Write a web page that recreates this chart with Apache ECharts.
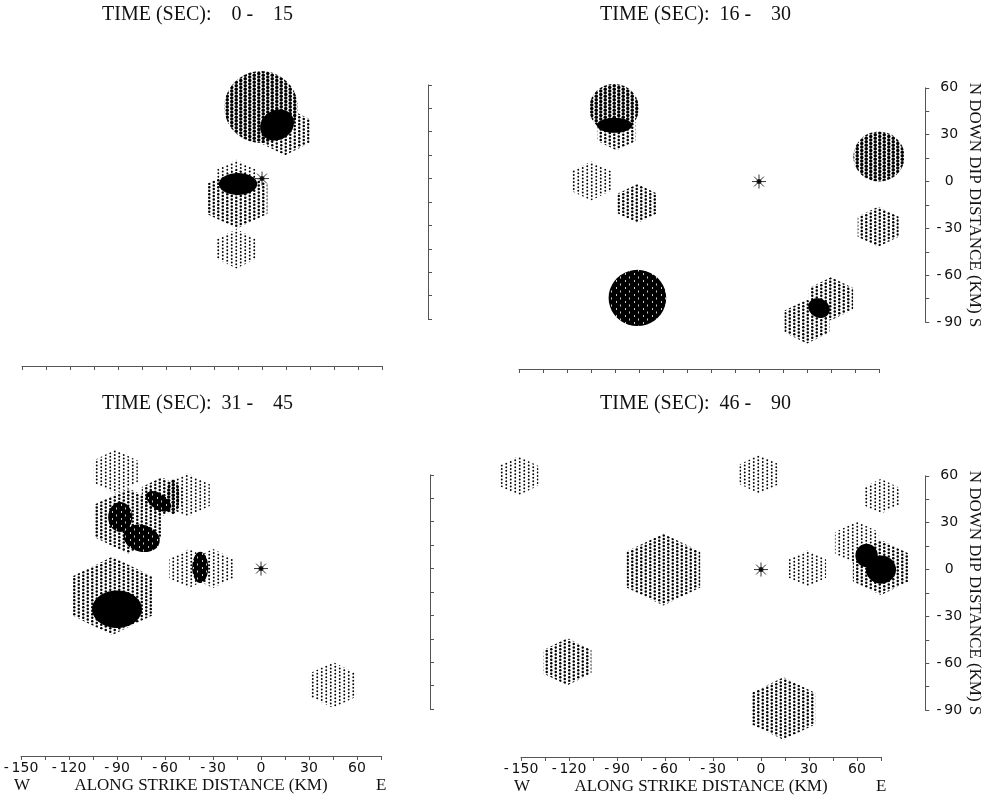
<!DOCTYPE html>
<html>
<head>
<meta charset="utf-8">
<title>Slip snapshots</title>
<script src="https://cdn.jsdelivr.net/npm/echarts@6/dist/echarts.min.js"></script>
<style>
  html, body { margin: 0; padding: 0; background: #fff; }
  #chart { width: 984px; height: 799px; }
</style>
</head>
<body>
<div id="chart"></div>
<script>
// time windows of the four snapshots (sec)
const windows = [[0, 15], [16, 30], [31, 45], [46, 90]];

// slip patches: [along strike km, down dip km, radius km, level]
// level 1 = light dots, 2 = medium, 3 = dense, 4 = very dense
const patches0 = [
  [-0.6, 45.8, 23, 3],
  [14.4, 30.4, 15.4, 2],
  [-16, 0, 12, 1],
  [-15.6, -13, 19, 2],
  [-16, -45, 12.5, 1]
];
const patches1 = [
  [-90.6, 47, 15.5, 3],
  [-89, 32, 12, 2],
  [-105, 0.4, 12.5, 1],
  [-76, -14, 12.5, 2],
  [75, 16, 16, 3],
  [74.5, -29, 12.8, 2],
  [-76, -74.5, 18, 4],
  [45, -75, 13.8, 2],
  [30, -89.6, 14, 2]
];
const patches2 = [
  [-91, 62, 14, 1],
  [-46, 47, 14, 1],
  [-62, 46, 12.5, 2],
  [-83, 30.5, 21, 2],
  [-93, -17.5, 25, 2],
  [-45, 0, 12.5, 1],
  [-30, 0, 12.5, 1],
  [45, -74.5, 14.7, 1]
];
const patches3 = [
  [-151.6, 60, 12.5, 1],
  [-1, 61, 12.5, 1],
  [75, 47, 11.2, 1],
  [-61, 0, 23, 2],
  [29, 0.6, 11.7, 1],
  [60, 17, 13.8, 1],
  [75, 1.3, 17.6, 2],
  [-121, -59, 15, 2],
  [14, -89, 20, 2]
];

// dark cores: [x km, y km, rx km, ry km, tilt deg, level] (5 = solid)
const cores0 = [
  [9.4, 34.3, 11, 9.5, 30, 5],
  [-15, -3.5, 12, 7, 0, 5]
];
const cores1 = [
  [-90.3, 36, 11, 4.8, 0, 5],
  [37.5, -81, 7, 6, -30, 5]
];
const cores2 = [
  [-64, 43, 9, 5, -35, 4],
  [-55, 46, 4, 11, 0, 3],
  [-88, 33, 7.5, 9.6, 0, 4],
  [-74.6, 19.4, 11.5, 8.6, -15, 4],
  [-90, -26, 15.6, 12, 0, 5],
  [-38, 0.7, 5, 10, 0, 4]
];
const cores3 = [
  [66, 9, 7, 7.5, 0, 5],
  [75, 0, 9.4, 9, 0, 5]
];

const patchSets = [patches0, patches1, patches2, patches3];
const coreSets = [cores0, cores1, cores2, cores3];
const hypocenter = [[0, 0]];

const strikeLabels = [-150, -120, -90, -60, -30, 0, 30, 60];
const dipLabels = [60, 30, 0, -30, -60, -90];

// panel frames in pixels
const panels = [
  {left: 22, top: 38, axisX: 428, xLab: false, yLab: false},
  {left: 519, top: 41, axisX: 927, xLab: false, yLab: true},
  {left: 21, top: 428, axisX: 430, xLab: true, yLab: false},
  {left: 521, top: 429, axisX: 927, xLab: true, yLab: true}
];
const W = 360, H = 328;
const serif = 'Liberation Serif';
const sans = 'DejaVu Sans';

// dot screens: columns 4.5px apart, dots every 3.5px, neighbour columns offset
function makePattern(draw) {
  const cv = document.createElement('canvas');
  cv.width = 9; cv.height = 7;
  draw(cv.getContext('2d'));
  return {image: cv, repeat: 'repeat'};
}
function dotScreen(r, color) {
  return makePattern(ctx => {
    ctx.fillStyle = color;
    const pts = [[2.25, 1.75], [2.25, 5.25], [6.75, 0], [6.75, 3.5]];
    pts.forEach(p => {
      for (let i = -1; i <= 1; i++) {
        for (let j = -1; j <= 1; j++) {
          ctx.beginPath();
          ctx.arc(p[0] + i * 9, p[1] + j * 7, r, 0, Math.PI * 2);
          ctx.fill();
        }
      }
    });
  });
}
const fills = {
  1: dotScreen(0.95, '#000'),
  2: dotScreen(1.25, '#000'),
  3: dotScreen(1.75, '#000'),
  4: makePattern(ctx => {
    ctx.fillStyle = '#000';
    ctx.fillRect(0, 0, 9, 7);
    ctx.fillStyle = 'rgba(255,255,255,0.8)';
    ctx.fillRect(4, 0, 1, 2);
    ctx.fillRect(8, 3.5, 1, 2);
  }),
  5: '#000'
};

function patchItem(params, api) {
  const c = api.coord([api.value(0), api.value(1)]);
  const s = api.size([api.value(2), api.value(2)]);
  const lvl = api.value(3);
  const pts = [];
  if (lvl >= 3) {
    for (let k = 0; k < 40; k++) {
      const a = k / 40 * Math.PI * 2;
      pts.push([c[0] + s[0] * Math.cos(a), c[1] + s[1] * Math.sin(a)]);
    }
  } else {
    const rx = s[0], ry = s[1];
    pts.push([c[0], c[1] - ry], [c[0] + rx, c[1] - ry / 2], [c[0] + rx, c[1] + ry / 2],
      [c[0], c[1] + ry], [c[0] - rx, c[1] + ry / 2], [c[0] - rx, c[1] - ry / 2]);
  }
  return {type: 'polygon', shape: {points: pts}, style: {fill: fills[lvl], stroke: null}};
}

function coreItem(params, api) {
  const c = api.coord([api.value(0), api.value(1)]);
  const s = api.size([api.value(2), api.value(3)]);
  const a = api.value(4) * Math.PI / 180;
  const pts = [];
  for (let k = 0; k < 36; k++) {
    const t = k / 36 * Math.PI * 2;
    const ex = s[0] * Math.cos(t), ey = s[1] * Math.sin(t);
    pts.push([c[0] + ex * Math.cos(a) - ey * Math.sin(a), c[1] - (ex * Math.sin(a) + ey * Math.cos(a))]);
  }
  return {type: 'polygon', shape: {points: pts}, style: {fill: fills[api.value(5)], stroke: null}};
}

// minus sign followed by a thin space, like the plotter font
const fmtTick = v => (v < 0 ? '-\u2009' + (-v) : String(v));

const grid = [], xAxis = [], yAxis = [], series = [], title = [], graphic = [];
const lineStyle = {color: '#555', width: 1};

panels.forEach((p, i) => {
  const g = 2 * i;
  grid.push({left: p.left, top: p.top, width: W, height: H});
  grid.push({left: p.axisX - 20, top: p.top + 30 * H / 210, width: 20, height: 150 * H / 210});

  xAxis.push({
    gridIndex: g, type: 'value', min: -150, max: 75, interval: 15,
    axisLine: {show: true, onZero: false, lineStyle},
    axisTick: {show: true, length: 4, lineStyle},
    splitLine: {show: false},
    axisLabel: {
      show: p.xLab, margin: 5, color: '#111', fontFamily: sans, fontSize: 14,
      formatter: v => strikeLabels.includes(v) ? fmtTick(v) : ''
    },
    name: p.xLab ? 'ALONG STRIKE DISTANCE (KM)' : '',
    nameLocation: 'middle', nameGap: 21,
    nameTextStyle: {color: '#111', fontFamily: serif, fontSize: 17}
  });
  xAxis.push({gridIndex: g + 1, type: 'value', show: false});

  yAxis.push({gridIndex: g, type: 'value', min: -120, max: 90, show: false});
  yAxis.push({
    gridIndex: g + 1, type: 'value', position: 'right', min: -90, max: 60, interval: 15,
    axisLine: {show: true, onZero: false, lineStyle},
    axisTick: {show: true, length: 4, lineStyle},
    splitLine: {show: false},
    axisLabel: {
      show: p.yLab, margin: 24, align: 'center', color: '#111', fontFamily: sans, fontSize: 14,
      formatter: v => dipLabels.includes(v) ? fmtTick(v) : ''
    },
    name: p.yLab ? 'N DOWN DIP DISTANCE (KM) S' : '',
    nameLocation: 'middle', nameRotate: -90, nameGap: 36,
    nameTextStyle: {color: '#111', fontFamily: serif, fontSize: 17}
  });

  series.push({
    type: 'custom', xAxisIndex: g, yAxisIndex: g, silent: true, clip: false,
    renderItem: patchItem, data: patchSets[i]
  });
  series.push({
    type: 'custom', xAxisIndex: g, yAxisIndex: g, silent: true, clip: false,
    renderItem: coreItem, data: coreSets[i]
  });
  series.push({
    type: 'scatter', xAxisIndex: g, yAxisIndex: g, silent: true,
    symbol: 'path://M0,-10L0,10M-10,0L10,0M-7,-7L7,7M-7,7L7,-7', symbolSize: 14,
    itemStyle: {color: '#000', borderColor: '#000', borderWidth: 1}, data: hypocenter
  });
  series.push({
    type: 'scatter', xAxisIndex: g, yAxisIndex: g, silent: true,
    symbol: 'circle', symbolSize: 5, itemStyle: {color: '#000'}, data: hypocenter
  });

  const w = windows[i];
  const pad = n => (n < 10 ? '  ' : '') + n;
  title.push({
    text: 'TIME (SEC):  ' + pad(w[0]) + ' -    ' + pad(w[1]),
    left: i % 2 ? 600 : 102, top: i < 2 ? 5 : 394, padding: 0,
    textStyle: {color: '#111', fontFamily: serif, fontSize: 20, fontWeight: 'normal'}
  });

  if (p.xLab) {
    const ty = p.top + H + 21;
    graphic.push({type: 'text', left: p.left - 7, top: ty,
      style: {text: 'W', fill: '#111', font: '17px "Liberation Serif"'}});
    graphic.push({type: 'text', left: p.left + W - 5, top: ty,
      style: {text: 'E', fill: '#111', font: '17px "Liberation Serif"'}});
  }
});

const chart = echarts.init(document.getElementById('chart'), null, {renderer: 'canvas'});
chart.setOption({
  backgroundColor: '#fff',
  animation: false,
  title, grid, xAxis, yAxis, series, graphic
});
</script>
</body>
</html>
